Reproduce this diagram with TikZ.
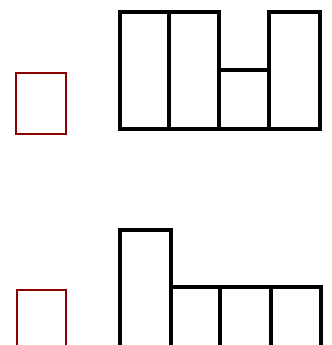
\documentclass[tikz,border=0pt]{standalone}
\usepackage{tikz}
\usetikzlibrary{positioning}

\begin{document}
\begin{tikzpicture}[x=0.03cm, y=-0.03cm,
      cell/.style={draw=black, line width=3pt, line join=miter},
      unit/.style={draw=red!55!black, line width=2.1pt}]

    % ---- Frame (picture area, cut at the page edge) ----
    \useasboundingbox (0,0) rectangle (331,345);
    \clip (0,0) rectangle (331,345);

    % ---- Layout ----
    \def\xa{120}   % left edge of blocks
    \def\xb{169}   % first divider
    \def\xc{219}   % second divider
    \def\xd{269}   % third divider
    \def\xe{320}   % right edge
    \def\ybot{129} % base of top figure
    \def\ylo{287}  % top of low cells, bottom figure

    % ---- Top figure ----
    \draw[unit] (16,73) rectangle (66,134);
    \draw[cell] (\xa,12) rectangle (\xb,\ybot);
    \draw[cell] (\xb,12) rectangle (\xc,\ybot);
    \draw[cell] (\xc,70) rectangle (\xd,\ybot);
    \draw[cell] (\xd,12) rectangle (\xe,\ybot);

    % ---- Bottom figure ----
    \draw[unit] (17,290) rectangle (66,360);
    \draw[cell] (\xa,230) rectangle (171,360);
    \draw[cell] (171,\ylo) rectangle (220,360);
    \draw[cell] (220,\ylo) rectangle (271,360);
    \draw[cell] (271,\ylo) rectangle (321,360);

\end{tikzpicture}
\end{document}
